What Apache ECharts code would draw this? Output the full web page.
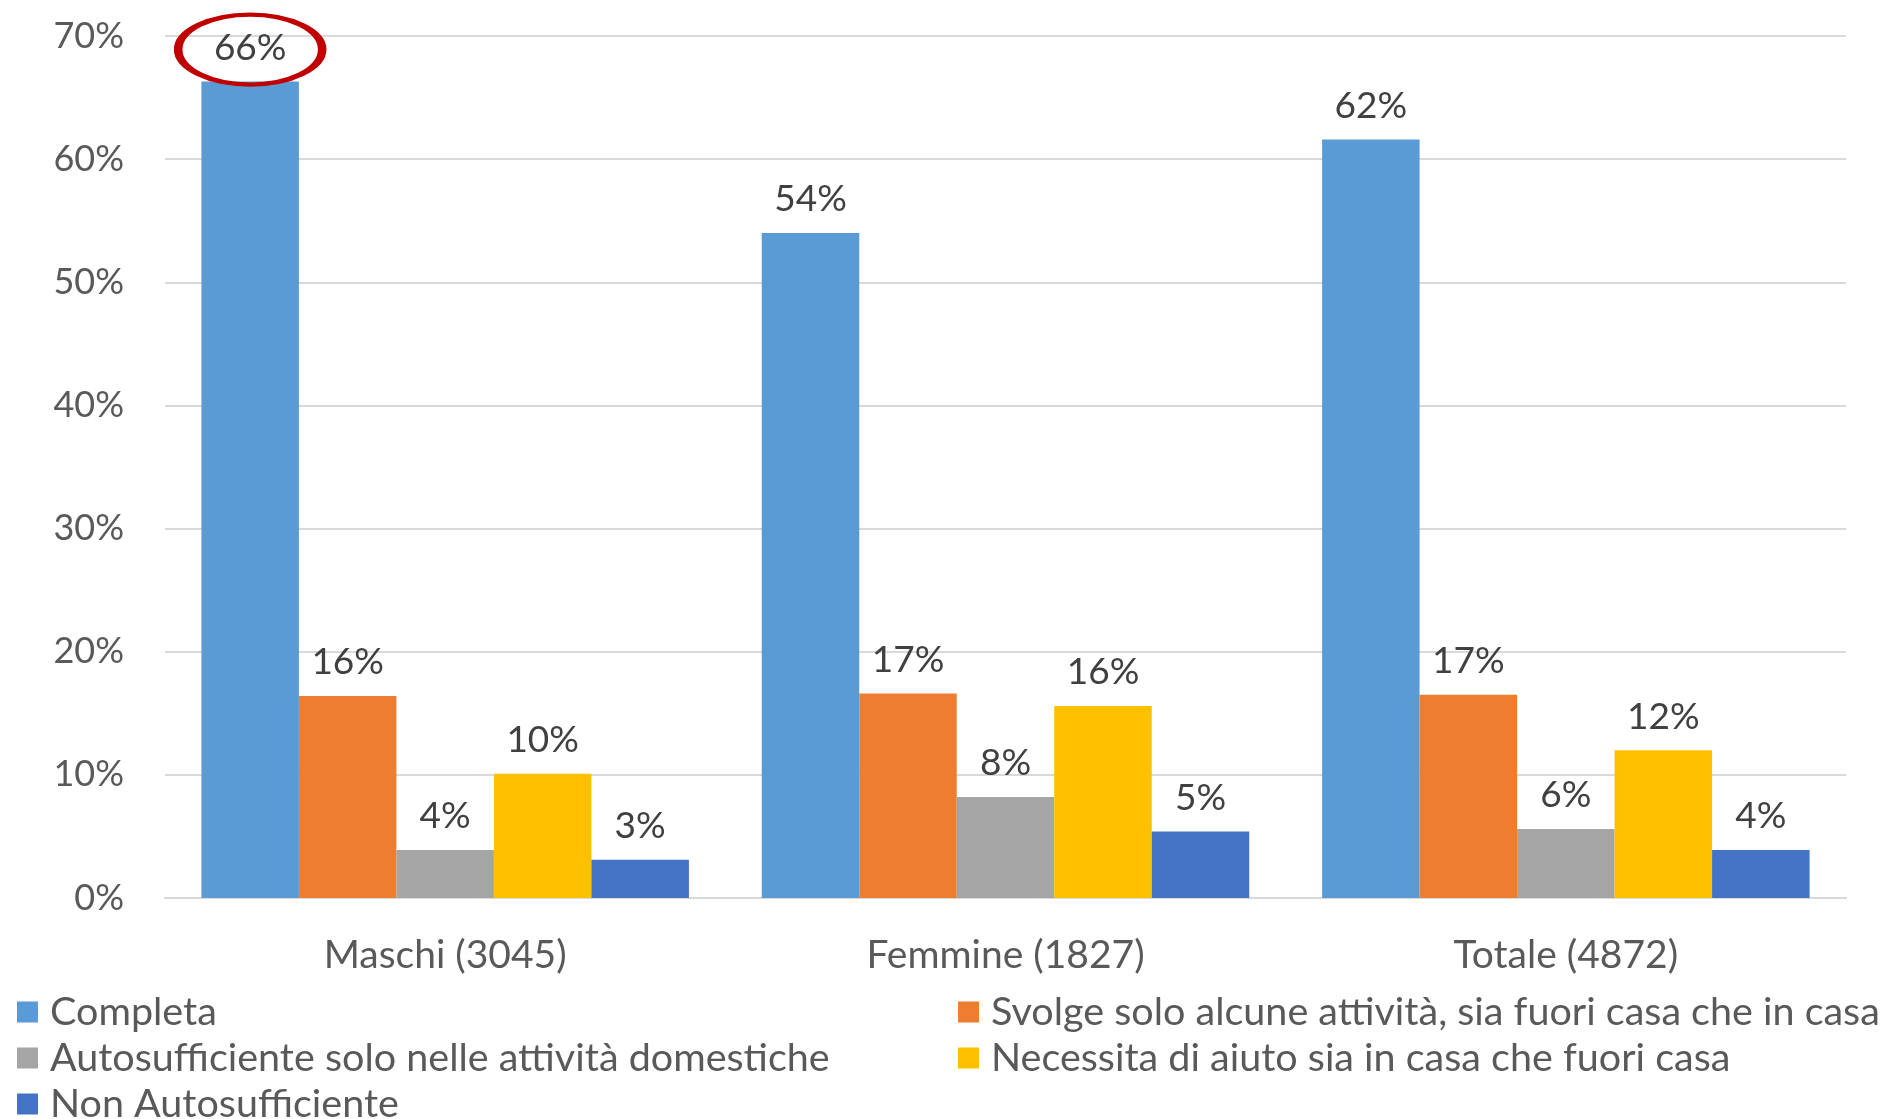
<!DOCTYPE html>
<html>
<head>
<meta charset="utf-8">
<script src="https://cdn.jsdelivr.net/npm/echarts@6/dist/echarts.min.js"></script>
<style>
html,body{margin:0;padding:0;background:#fff;}
#chart{width:1888px;height:1119px;}
</style>
</head>
<body>
<div id="chart"></div>
<script>
const categories = ['Maschi (3045)', 'Femmine (1827)', 'Totale (4872)'];
const seriesNames = [
  'Completa',
  'Svolge solo alcune attività, sia fuori casa che in casa',
  'Autosufficiente solo nelle attività domestiche',
  'Necessita di aiuto sia in casa che fuori casa',
  'Non Autosufficiente'
];
const completa = [66.3, 54.0, 61.6];
const svolge = [16.4, 16.6, 16.5];
const autosufficiente = [3.9, 8.2, 5.6];
const necessita = [10.1, 15.6, 12.0];
const nonAuto = [3.1, 5.4, 3.9];
const yTicks = [0, 10, 20, 30, 40, 50, 60, 70];
const colors = ['#5B9BD5', '#ED7D31', '#A5A5A5', '#FFC000', '#4472C4'];

const FONT = 'Lato';
const values = [completa, svolge, autosufficiente, necessita, nonAuto];

const series = seriesNames.map((name, i) => {
  const s = {
    name: name,
    type: 'bar',
    data: values[i],
    barGap: '0%',
    barCategoryGap: '13%',
    itemStyle: { color: colors[i] },
    label: {
      show: true,
      position: 'top',
      distance: 15,
      formatter: p => Math.round(p.value) + '%',
      color: '#404040',
      fontFamily: FONT,
      fontSize: 37
    },
    emphasis: { disabled: true }
  };
  if (i === 0) {
    s.markPoint = {
      data: [{ type: 'max' }],
      symbol: 'path://M0,50 A100,50 0 1,1 200,50 A100,50 0 1,1 0,50 Z',
      symbolSize: [144, 70],
      symbolKeepAspect: false,
      symbolOffset: [0, -32],
      itemStyle: { color: 'rgba(0,0,0,0)', borderColor: '#C00000', borderWidth: 6 },
      label: { show: false },
      silent: true
    };
  }
  return s;
});

const legendCommon = {
  type: 'plain',
  orient: 'vertical',
  top: 989,
  height: 200,
  padding: 0,
  itemGap: 0,
  itemWidth: 21,
  itemHeight: 21,
  icon: 'rect',
  selectedMode: false,
  textStyle: {
    color: '#595959',
    fontFamily: FONT,
    fontSize: 39.5,
    lineHeight: 46,
    padding: [0, 0, 0, 7]
  }
};

const option = {
  animation: false,
  backgroundColor: '#ffffff',
  color: colors,
  grid: { left: 165, right: 42, top: 36, bottom: 221, containLabel: false },
  legend: [
    Object.assign({}, legendCommon, { left: 17, data: [seriesNames[0], seriesNames[2], seriesNames[4]] }),
    Object.assign({}, legendCommon, { left: 958, data: [seriesNames[1], seriesNames[3]] })
  ],
  xAxis: {
    type: 'category',
    data: categories,
    axisTick: { show: false },
    axisLine: { show: true, lineStyle: { color: '#D9D9D9', width: 2 } },
    axisLabel: { color: '#595959', fontFamily: FONT, fontSize: 39, margin: 38 }
  },
  yAxis: {
    type: 'value',
    min: yTicks[0],
    max: yTicks[yTicks.length - 1],
    interval: yTicks[1] - yTicks[0],
    axisLine: { show: false },
    axisTick: { show: false },
    splitLine: { lineStyle: { color: '#D9D9D9', width: 2 } },
    axisLabel: { color: '#595959', fontFamily: FONT, fontSize: 36, margin: 41, formatter: '{value}%' }
  },
  series: series
};

const chart = echarts.init(document.getElementById('chart'), null, { renderer: 'canvas' });
chart.setOption(option);
</script>
</body>
</html>
